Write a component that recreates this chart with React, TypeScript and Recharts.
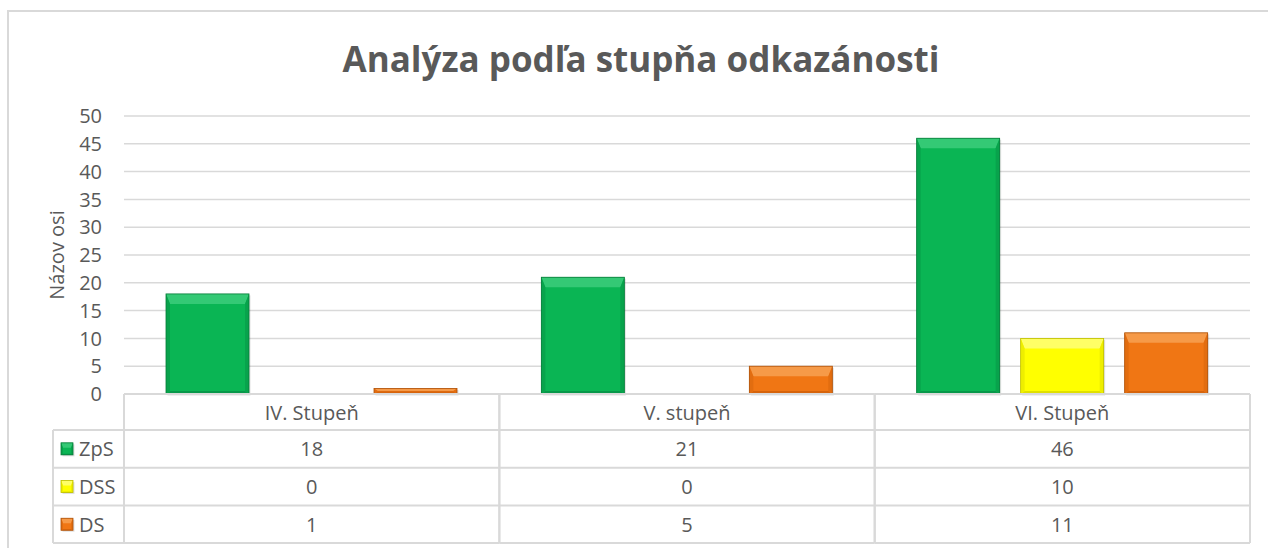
import { Bar, BarChart, CartesianGrid, XAxis, YAxis } from "recharts";

const categories = ["IV. Stupeň", "V. stupeň", "VI. Stupeň"];
const zpsValues = [18, 21, 46];
const dssValues = [0, 0, 10];
const dsValues = [1, 5, 11];
const seriesNames = ["ZpS", "DSS", "DS"];
const yTicks = [0, 5, 10, 15, 20, 25, 30, 35, 40, 45, 50];

const seriesValues = [zpsValues, dssValues, dsValues];

const data = categories.map((category, i) => ({
  category,
  ZpS: zpsValues[i],
  DSS: dssValues[i],
  DS: dsValues[i],
}));

type Shade = { main: string; top: string; bottom: string; side: string; edge: string };

const green: Shade = { main: "#0ab554", top: "#34c975", bottom: "#07984a", side: "#08a34c", edge: "#067a38" };
const yellow: Shade = { main: "#ffff00", top: "#ffff66", bottom: "#e0e000", side: "#eeee00", edge: "#bdbd00" };
const orange: Shade = { main: "#f07614", top: "#f69a48", bottom: "#d6640c", side: "#e26d10", edge: "#ad520a" };
const shades = [green, yellow, orange];

const FONT = "'Open Sans', sans-serif";
const TEXT = "#595959";
const LINE = "#d9d9d9";
const FS = 20;

function bevel(x: number, y: number, w: number, h: number, c: Shade, top: number, side: number, bot: number) {
  const t = Math.min(top, h / 2);
  const s = Math.min(side, w / 2);
  const b = Math.min(bot, h / 2);
  return (
    <g>
      <rect x={x + 1.5} y={y + 1.5} width={w} height={h} fill="rgba(0,0,0,0.12)" />
      <rect x={x} y={y} width={w} height={h} fill={c.main} />
      <polygon points={`${x},${y} ${x + w},${y} ${x + w - s},${y + t} ${x + s},${y + t}`} fill={c.top} />
      <polygon points={`${x},${y + h} ${x + w},${y + h} ${x + w - s},${y + h - b} ${x + s},${y + h - b}`} fill={c.bottom} />
      <polygon points={`${x},${y} ${x + s},${y + t} ${x + s},${y + h - b} ${x},${y + h}`} fill={c.side} />
      <polygon points={`${x + w},${y} ${x + w - s},${y + t} ${x + w - s},${y + h - b} ${x + w},${y + h}`} fill={c.side} />
      <rect x={x} y={y} width={w} height={h} fill="none" stroke={c.edge} strokeWidth={0.8} />
    </g>
  );
}

function makeShape(c: Shade) {
  return (p: any) => {
    if (!p.height || p.height <= 0) return <g />;
    return bevel(p.x, p.y, p.width, p.height, c, 10, 4, 3);
  };
}

const HEADER_H = 36;
const ROW_H = 37.7;
const LEGEND_W = 71;

function TableTick(props: any) {
  const { x, y, payload } = props;
  const half = payload.offset ?? 187.7;
  const i = payload.index;
  const left = x - half;
  const right = x + half;
  const bottom = y + HEADER_H + ROW_H * 3;
  const lines = [];
  lines.push(<line key="t" x1={left} y1={y} x2={right} y2={y} />);
  lines.push(<line key="r" x1={right} y1={y} x2={right} y2={bottom} />);
  lines.push(<line key="l" x1={left} y1={y} x2={left} y2={bottom} />);
  for (let r = 0; r <= 3; r++) {
    const ry = y + HEADER_H + ROW_H * r;
    const lx = i === 0 ? left - LEGEND_W : left;
    lines.push(<line key={"h" + r} x1={lx} y1={ry} x2={right} y2={ry} />);
  }
  if (i === 0) {
    lines.push(
      <line key="ll" x1={left - LEGEND_W} y1={y + HEADER_H} x2={left - LEGEND_W} y2={bottom} />
    );
  }
  return (
    <g>
      <g stroke={LINE} strokeWidth={2}>{lines}</g>
      <text
        x={x}
        y={y + HEADER_H / 2}
        textAnchor="middle"
        dominantBaseline="central"
        fill={TEXT}
        fontSize={FS}
        fontFamily={FONT}
      >
        {payload.value}
      </text>
      {seriesValues.map((vals, r) => (
        <text
          key={r}
          x={x}
          y={y + HEADER_H + ROW_H * r + ROW_H / 2}
          textAnchor="middle"
          dominantBaseline="central"
          fill={TEXT}
          fontSize={FS}
          fontFamily={FONT}
        >
          {vals[i]}
        </text>
      ))}
      {i === 0 &&
        seriesNames.map((name, r) => {
          const cy = y + HEADER_H + ROW_H * r + ROW_H / 2;
          const sx = left - LEGEND_W + 8;
          return (
            <g key={name}>
              {bevel(sx, cy - 6, 12, 12, shades[r], 5, 2, 1)}
              <text
                x={sx + 18}
                y={cy}
                dominantBaseline="central"
                fill={TEXT}
                fontSize={FS}
                fontFamily={FONT}
              >
                {name}
              </text>
            </g>
          );
        })}
    </g>
  );
}

export default function App() {
  return (
    <div
      style={{
        position: "absolute",
        left: 0,
        top: 0,
        width: 1268,
        height: 548,
        overflow: "hidden",
        background: "#fff",
      }}
    >
      <div
        style={{
          position: "absolute",
          left: 7,
          top: 10,
          width: 1300,
          height: 600,
          border: `2px solid ${LINE}`,
        }}
      />
      <div
        style={{
          position: "absolute",
          left: 0,
          top: 36,
          width: 1282,
          textAlign: "center",
          fontFamily: FONT,
          fontWeight: 700,
          fontSize: 35,
          lineHeight: "46px",
          color: TEXT,
        }}
      >
        Analýza podľa stupňa odkazánosti
      </div>
      <div style={{ position: "absolute", left: 0, top: 0 }}>
        <BarChart
          width={1268}
          height={548}
          data={data}
          margin={{ top: 116, right: 18, bottom: 3, left: 0 }}
          barCategoryGap={42}
          barGap={21}
        >
          <CartesianGrid vertical={false} stroke={LINE} strokeWidth={1.5} />
          <XAxis
            dataKey="category"
            height={151}
            axisLine={false}
            tickLine={false}
            tickSize={0}
            tickMargin={0}
            interval={0}
            tick={<TableTick />}
          />
          <YAxis
            width={124}
            domain={[0, 50]}
            ticks={yTicks}
            interval={0}
            axisLine={false}
            tickLine={false}
            tickSize={0}
            tickMargin={22}
            tick={{ fill: TEXT, fontSize: FS, fontFamily: FONT }}
            label={{
              value: "Názov osi",
              angle: -90,
              position: "insideLeft",
              offset: 57,
              style: { textAnchor: "middle", fill: TEXT, fontSize: FS, fontFamily: FONT },
            }}
          />
          <Bar dataKey="ZpS" fill={green.main} isAnimationActive={false} shape={makeShape(green)} />
          <Bar dataKey="DSS" fill={yellow.main} isAnimationActive={false} shape={makeShape(yellow)} />
          <Bar dataKey="DS" fill={orange.main} isAnimationActive={false} shape={makeShape(orange)} />
        </BarChart>
      </div>
    </div>
  );
}
